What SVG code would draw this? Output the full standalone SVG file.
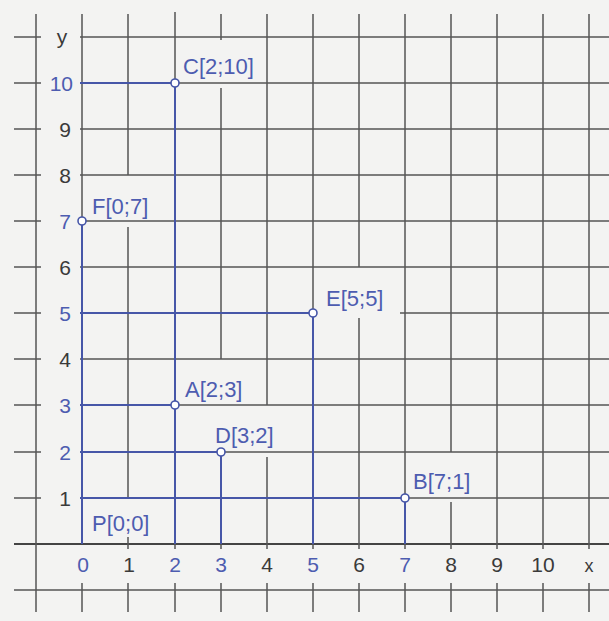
<svg xmlns="http://www.w3.org/2000/svg" width="609" height="621" viewBox="0 0 609 621">
<style>
.g{stroke:#565656;stroke-width:1.5;fill:none}
.ax{stroke:#444;stroke-width:2.2;fill:none}
.b{stroke:#4656a8;stroke-width:2;fill:none}
.pt{fill:#ffffff;stroke:#4656a8;stroke-width:1.6}
text{font-family:"Liberation Sans",Arial,sans-serif;font-size:21px}
.k{fill:#3a3a3a}
.bl{fill:#4d5cb0}
.lb{fill:#4d5cb0;font-size:22px}
</style>
<rect width="609" height="621" fill="#f3f3f2"/>
<g id="grid">
<path class="g" d="M14 37H41M80 37H609
M14 83H41M175 83H609
M14 129H41M80 129H609
M14 175H41M80 175H609
M14 221H41M82 221H609
M14 267H41M80 267H609
M14 313H41M400 313H609
M14 359H41M80 359H609
M14 405H41M175 405H609
M14 452H41M221 452H609
M14 498H41M405 498H609
M14 590H609"/>
<path class="ax" d="M14 544H609"/>
<path class="g" d="M36 14V612
M82 14V221M82 583V612
M128 14V175M128 227V498M128 537V549M128 583V612
M175 12V83M175 544V549M175 583V612
M221 14V40M221 88V359M221 544V549M221 583V612
M267 14V405M267 457V549M267 583V612
M313 14V313M313 544V549M313 583V612
M359 14V267M359 318V549M359 583V612
M405 14V498M405 544V549M405 583V612
M451 14V452M451 502V549M451 583V612
M497 14V549M497 583V612
M543 14V549M543 583V612
M589 14V549M589 583V612"/>
</g>
<g id="connectors">
<path class="b" d="M82 221V544"/>
<path class="b" d="M80 83H175V544"/>
<path class="b" d="M80 313H313V544"/>
<path class="b" d="M80 405H175"/>
<path class="b" d="M80 452H221V544"/>
<path class="b" d="M80 498H405V544"/>
</g>
<g id="axis-labels">
<text x="62" y="44" class="k" text-anchor="middle">y</text>
<g text-anchor="end">
<text x="73" y="91" class="bl">10</text>
<text x="71" y="137" class="k">9</text>
<text x="71" y="183" class="k">8</text>
<text x="71" y="229" class="bl">7</text>
<text x="71" y="275" class="k">6</text>
<text x="71" y="321" class="bl">5</text>
<text x="71" y="367" class="k">4</text>
<text x="71" y="413" class="bl">3</text>
<text x="71" y="460" class="bl">2</text>
<text x="71" y="506" class="k">1</text>
</g>
<g text-anchor="middle">
<text x="83" y="572" class="bl">0</text>
<text x="129" y="572" class="k">1</text>
<text x="175" y="572" class="bl">2</text>
<text x="221" y="572" class="bl">3</text>
<text x="267" y="572" class="k">4</text>
<text x="313" y="572" class="bl">5</text>
<text x="359" y="572" class="k">6</text>
<text x="405" y="572" class="bl">7</text>
<text x="451" y="572" class="k">8</text>
<text x="497" y="572" class="k">9</text>
<text x="543" y="572" class="k">10</text>
<text x="589" y="572" class="k" style="font-size:18px">x</text>
</g>
</g>
<g id="C"><circle class="pt" cx="175" cy="83" r="4"/><text class="lb" x="183" y="74">C[2;10]</text></g>
<g id="F"><circle class="pt" cx="82" cy="221" r="4"/><text class="lb" x="92" y="214">F[0;7]</text></g>
<g id="E"><circle class="pt" cx="313" cy="313" r="4"/><text class="lb" x="326" y="306">E[5;5]</text></g>
<g id="A"><circle class="pt" cx="175" cy="405" r="4"/><text class="lb" x="185" y="397">A[2;3]</text></g>
<g id="D"><circle class="pt" cx="221" cy="452" r="4"/><text class="lb" x="215" y="443">D[3;2]</text></g>
<g id="B"><circle class="pt" cx="405" cy="498" r="4"/><text class="lb" x="413" y="489">B[7;1]</text></g>
<g id="P"><text class="lb" x="92" y="531">P[0;0]</text></g>
</svg>
